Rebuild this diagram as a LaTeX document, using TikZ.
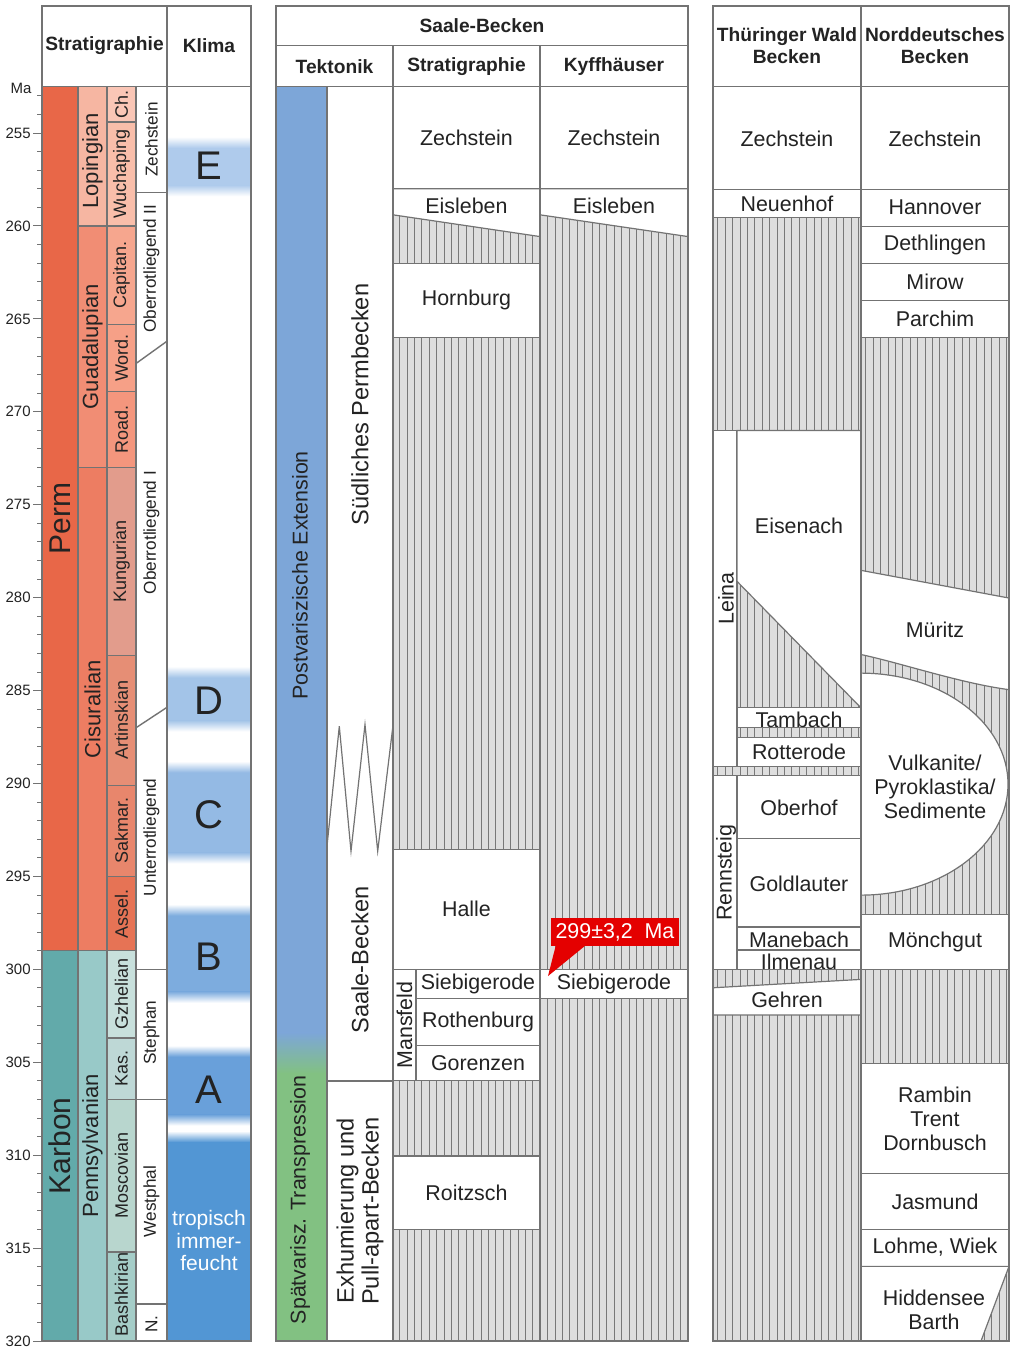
\documentclass[tikz,border=0pt]{standalone}
\usepackage{fontspec}
\setmainfont{Liberation Sans}
\usetikzlibrary{patterns.meta}

\definecolor{linegray}{RGB}{115,115,115}
\definecolor{textdark}{RGB}{35,35,35}
\definecolor{hatchfill}{RGB}{222,222,222}
\definecolor{hatchline}{RGB}{120,120,120}
\definecolor{perm}{RGB}{232,103,72}
\definecolor{karbon}{RGB}{98,170,170}
\definecolor{lopingian}{RGB}{246,182,162}
\definecolor{guadalupian}{RGB}{241,141,116}
\definecolor{cisuralian}{RGB}{237,125,98}
\definecolor{pennsylvanian}{RGB}{152,201,200}
\definecolor{changh}{RGB}{250,198,182}
\definecolor{wuchia}{RGB}{249,190,170}
\definecolor{capitan}{RGB}{246,166,142}
\definecolor{wordian}{RGB}{246,160,135}
\definecolor{roadian}{RGB}{244,150,125}
\definecolor{kungur}{RGB}{226,156,140}
\definecolor{artinsk}{RGB}{230,142,117}
\definecolor{sakmar}{RGB}{232,134,108}
\definecolor{assel}{RGB}{230,115,85}
\definecolor{gzhel}{RGB}{200,224,220}
\definecolor{kasimov}{RGB}{190,216,214}
\definecolor{moscov}{RGB}{184,214,206}
\definecolor{bashkir}{RGB}{165,205,200}
\definecolor{klimaE}{RGB}{175,203,236}
\definecolor{klimaD}{RGB}{163,196,232}
\definecolor{klimaC}{RGB}{148,186,228}
\definecolor{klimaB}{RGB}{125,172,222}
\definecolor{klimaA}{RGB}{105,160,218}
\definecolor{klimaT}{RGB}{82,150,212}
\definecolor{tekblue}{RGB}{125,166,216}
\definecolor{tekgreen}{RGB}{130,193,130}
\definecolor{calloutred}{RGB}{228,0,0}

\newcommand\klimaband[3]{%
  \fill[#3] (167,#1+0.3) rectangle (251,#2-0.3);
  \shade[top color=white,bottom color=#3] (167,#1-0.3) rectangle (251,#1+0.3);
  \shade[top color=#3,bottom color=white] (167,#2-0.3) rectangle (251,#2+0.3);}

\tikzset{
  frame/.style={draw=linegray, line width=0.7pt},
  unit/.style={draw=linegray, line width=0.6pt, fill=white},
  hatched/.style={fill=hatchfill, postaction={pattern={Lines[angle=90,distance=3.7pt,line width=0.5pt]}, pattern color=hatchline}},
  lbl/.style={text=textdark, inner sep=1pt, align=center, font=\fontsize{10.7}{12}\selectfont},
  head/.style={lbl, font=\bfseries\fontsize{9.6}{11}\selectfont},
  tick/.style={lbl, font=\fontsize{7.5}{8}\selectfont},
  period/.style={lbl, rotate=90, font=\fontsize{15}{16}\selectfont},
  series/.style={lbl, rotate=90, font=\fontsize{11}{12}\selectfont},
  stage/.style={lbl, rotate=90, font=\fontsize{9}{10}\selectfont},
  local/.style={lbl, rotate=90, font=\fontsize{8.6}{10}\selectfont},
  klima/.style={lbl, font=\fontsize{20}{22}\selectfont},
  tekto/.style={lbl, rotate=90, font=\fontsize{11.8}{12.5}\selectfont}
}

\begin{document}
\begin{tikzpicture}[x=0.5pt, y=-9.2923pt]
\useasboundingbox (0,247.844) rectangle (1012,320.377);
\fill[white] (0,247.844) rectangle (1012,320.377);

% Stratigraphie und Klima
\fill[perm] (42,252.5) rectangle (78,299);
\fill[karbon] (42,299) rectangle (78,320);
\fill[lopingian] (78,252.5) rectangle (107,260);
\fill[guadalupian] (78,260) rectangle (107,273);
\fill[cisuralian] (78,273) rectangle (107,299);
\fill[pennsylvanian] (78,299) rectangle (107,320);
\fill[changh] (107,252.5) rectangle (136,254.4);
\fill[wuchia] (107,254.4) rectangle (136,260);
\fill[capitan] (107,260) rectangle (136,265.3);
\fill[wordian] (107,265.3) rectangle (136,268.9);
\fill[roadian] (107,268.9) rectangle (136,273);
\fill[kungur] (107,273) rectangle (136,283.1);
\fill[artinsk] (107,283.1) rectangle (136,290.1);
\fill[sakmar] (107,290.1) rectangle (136,295);
\fill[assel] (107,295) rectangle (136,299);
\fill[gzhel] (107,299) rectangle (136,303.7);
\fill[kasimov] (107,303.7) rectangle (136,307);
\fill[moscov] (107,307) rectangle (136,315.2);
\fill[bashkir] (107,315.2) rectangle (136,320);

\klimaband{255.5}{258.1}{klimaE}
\klimaband{284.0}{286.9}{klimaD}
\klimaband{289.1}{294.0}{klimaC}
\klimaband{296.8}{301.5}{klimaB}
\klimaband{304.4}{308.1}{klimaA}
\shade[top color=white,bottom color=klimaT] (167,308.7) rectangle (251,309.3);
\fill[klimaT] (167,309.3) rectangle (251,320);

\draw[frame] (42,248.17) rectangle (251,320);
\draw[frame] (42,252.5) -- (251,252.5);
\draw[frame] (167,248.17) -- (167,320);
\foreach \x in {78,107,136}
  \draw[frame] (\x,252.5) -- (\x,320);
\draw[frame] (42,299) -- (136,299);
\draw[frame] (78,260) -- (107,260);
\draw[frame] (78,273) -- (107,273);
\foreach \t in {254.4,260,265.3,268.9,273,283.1,290.1,295,303.7,307,315.2}
  \draw[frame] (107,\t) -- (136,\t);
\draw[frame] (136,258.2) -- (167,258.2);
\draw[frame] (136,267.4) -- (167,266.2);
\draw[frame] (136,287.0) -- (167,285.9);
\foreach \t in {300,307,318}
  \draw[frame] (136,\t) -- (167,\t);

\foreach \t in {253,...,320}
  \draw[linegray, line width=0.5pt] (37,\t) -- (42,\t);
\foreach \t in {255,260,...,320}{
  \draw[linegray, line width=0.5pt] (33,\t) -- (42,\t);
  \node[tick, anchor=east] (ma\t) at (33,\t) {\t};
}
\node[tick] (maunit) at (21,252.6) {Ma};

\node[head] (stratL) at (104.5,250.3) {Stratigraphie};
\node[head] (klimaH) at (209,250.3) {Klima};

\node[period] (permP) at (60,275.75) {Perm};
\node[period] (karbonP) at (60,309.5) {Karbon};
\node[series] (loping) at (92.5,256.5) {Lopingian};
\node[series] (guadal) at (92.5,266.5) {Guadalupian};
\node[series] (cisur) at (92.5,286) {Cisuralian};
\node[series] (pennsyl) at (92.5,309.5) {Pennsylvanian};
\node[stage] (chS) at (121.5,253.45) {Ch.};
\node[stage] (wuS) at (121.5,257.2) {Wuchaping};
\node[stage] (caS) at (121.5,262.65) {Capitan.};
\node[stage] (woS) at (121.5,267.1) {Word.};
\node[stage] (roS) at (121.5,270.95) {Road.};
\node[stage] (kuS) at (121.5,278.05) {Kungurian};
\node[stage] (arS) at (121.5,286.6) {Artinskian};
\node[stage] (saS) at (121.5,292.55) {Sakmar.};
\node[stage] (asS) at (121.5,297) {Assel.};
\node[stage] (gzS) at (121.5,301.35) {Gzhelian};
\node[stage] (kaS) at (121.5,305.35) {Kas.};
\node[stage] (moS) at (121.5,311.1) {Moscovian};
\node[stage] (baS) at (121.5,317.5) {Bashkirian};
\node[local] (zechL) at (151.5,255.35) {Zechstein};
\node[local] (oberII) at (151.5,262.3) {Oberrotliegend II};
\node[local] (oberI) at (151.5,276.5) {Oberrotliegend I};
\node[local] (unter) at (151.5,292.9) {Unterrotliegend};
\node[local] (stephan) at (151.5,303.4) {Stephan};
\node[local] (westphal) at (151.5,312.5) {Westphal};
\node[local] (namur) at (151.5,319.1) {N.};

\node[klima] (kE) at (209,256.75) {E};
\node[klima] (kD) at (209,285.55) {D};
\node[klima] (kC) at (209,291.7) {C};
\node[klima] (kB) at (209,299.3) {B};
\node[klima] (kA) at (209,306.5) {A};
\node[lbl, text=white, font=\fontsize{10.5}{11.2}\selectfont] (tropic) at (209,314.6) {tropisch\\immer-\\feucht};

% Saale-Becken
\fill[tekblue] (276,252.5) rectangle (327,303.4);
\shade[top color=tekblue,bottom color=tekgreen] (276,303.4) rectangle (327,305.6);
\fill[tekgreen] (276,305.6) rectangle (327,320);
\fill[hatched] (393,252.5) rectangle (688,320);

\filldraw[unit] (393,252.5) rectangle (540,258.0);
\filldraw[unit] (393,258.0) -- (540,258.0) -- (540,260.57) -- (393,259.4) -- cycle;
\filldraw[unit] (393,262.0) rectangle (540,266.0);
\filldraw[unit] (393,293.55) rectangle (540,300);
\filldraw[unit] (393,300) rectangle (416,306);
\filldraw[unit] (416,300) rectangle (540,301.58);
\filldraw[unit] (416,301.58) rectangle (540,304.1);
\filldraw[unit] (416,304.1) rectangle (540,306);
\filldraw[unit] (393,310.04) rectangle (540,314);
\filldraw[unit] (540,252.5) rectangle (688,258.0);
\filldraw[unit] (540,258.0) -- (688,258.0) -- (688,260.57) -- (540,259.4) -- cycle;
\filldraw[unit] (540,300) rectangle (688,301.58);

\draw[frame] (276,248.17) rectangle (688,320);
\draw[frame] (276,250.3) -- (688,250.3);
\draw[frame] (276,252.5) -- (688,252.5);
\draw[frame] (393,250.3) -- (393,320);
\draw[frame] (540,250.3) -- (540,320);
\draw[frame] (327,252.5) -- (327,320);
\draw[frame] (327,306) -- (393,306);
\draw[linegray, line width=0.6pt] (327,293.37) -- (339.3,286.92) -- (351,293.64) -- (365,286.83) -- (377.7,293.64) -- (392.7,287.0);

\node[head] (saaleH) at (482,249.24) {Saale-Becken};
\node[head] (tektoH) at (334.5,251.4) {Tektonik};
\node[head] (stratM) at (466.5,251.4) {Stratigraphie};
\node[head] (kyffH) at (614,251.4) {Kyffh\"auser};

\node[lbl, rotate=90] (postvar) at (300,278.8) {Postvariszische Extension};
\node[lbl, rotate=90] (spaetvar) at (300,312.4) {Sp\"atvarisz. Transpression};
\node[tekto] (suedPB) at (360,269.6) {S\"udliches Permbecken};
\node[tekto] (saaleT) at (360,299.5) {Saale-Becken};
\node[tekto] (exhum) at (360,313) {Exhumierung und\\Pull-apart-Becken};

\node[lbl] (zechS) at (466.5,255.25) {Zechstein};
\node[lbl] (eisS) at (466.5,258.93) {Eisleben};
\node[lbl] (hornS) at (466.5,264.0) {Hornburg};
\node[lbl] (halleS) at (466.5,296.75) {Halle};
\node[lbl, rotate=90] (mansS) at (404.5,303) {Mansfeld};
\node[lbl] (siebS) at (478,300.8) {Siebigerode};
\node[lbl] (rothS) at (478,302.85) {Rothenburg};
\node[lbl] (gorS) at (478,305.05) {Gorenzen};
\node[lbl] (roitS) at (466.5,312.0) {Roitzsch};
\node[lbl] (zechK) at (614,255.25) {Zechstein};
\node[lbl] (eisK) at (614,258.93) {Eisleben};
\node[lbl] (siebK) at (614,300.8) {Siebigerode};

\node[lbl, fill=calloutred, text=white, minimum width=64pt, minimum height=14pt, inner sep=0pt] (age) at (615,298.01) {299\textpm3,2\ \ Ma};
\coordinate (agetip) at (548,300.36);
\fill[calloutred] ([xshift=2.5pt,yshift=0.3pt]age.south west) -- ([xshift=17pt,yshift=0.3pt]age.south west) -- (agetip) -- cycle;

% Thueringer Wald und Norddeutsches Becken
\fill[hatched] (713,252.5) rectangle (1009,320);

\filldraw[unit] (713,252.5) rectangle (861,258.05);
\filldraw[unit] (713,258.05) rectangle (861,259.53);
\filldraw[unit] (713,271) rectangle (737,289.07);
\filldraw[unit] (737,271) -- (861,271) -- (861,285.93) -- (737,279.12) -- cycle;
\filldraw[unit] (737,285.93) rectangle (861,287.0);
\filldraw[unit] (737,287.54) rectangle (861,289.07);
\filldraw[unit] (713,289.57) rectangle (737,300);
\filldraw[unit] (737,289.57) rectangle (861,292.97);
\filldraw[unit] (737,292.97) rectangle (861,297.72);
\filldraw[unit] (737,297.72) rectangle (861,298.96);
\filldraw[unit] (737,298.96) rectangle (861,300);
\filldraw[unit] (713,300.99) -- (861,300.54) -- (861,302.45) -- (713,302.45) -- cycle;

\filldraw[unit] (861,252.5) rectangle (1009,258.05);
\filldraw[unit] (861,258.05) rectangle (1009,260.04);
\filldraw[unit] (861,260.04) rectangle (1009,262.0);
\filldraw[unit] (861,262.0) rectangle (1009,264.0);
\filldraw[unit] (861,264.0) rectangle (1009,266.0);
\filldraw[unit] (861,278.53) -- (1009,280.02) -- (1009,284.95) .. controls (960,284.6) and (900,283.5) .. (861,283.06) -- cycle;
\filldraw[unit] (861,284.06) arc[start angle=90, end angle=-90, x radius=73.5pt, y radius=55.5pt] -- cycle;
\filldraw[unit] (861,297.04) rectangle (1009,300);
\filldraw[unit] (861,305.05) rectangle (1009,310.97);
\filldraw[unit] (861,310.97) rectangle (1009,313.98);
\filldraw[unit] (861,313.98) rectangle (1009,315.98);
\filldraw[unit] (861,315.98) -- (1009,315.98) -- (981,320) -- (861,320) -- cycle;

\draw[frame] (713,248.17) rectangle (1009,320);
\draw[frame] (713,252.5) -- (1009,252.5);
\draw[frame] (861,248.17) -- (861,320);

\node[head] (thuerH) at (787,250.32) {Th\"uringer Wald\\Becken};
\node[head] (nordH) at (935,250.32) {Norddeutsches\\Becken};

\node[lbl] (zechT) at (787,255.3) {Zechstein};
\node[lbl] (neuenT) at (787,258.82) {Neuenhof};
\node[lbl, rotate=90] (leinaT) at (726,280.05) {Leina};
\node[lbl] (eisenT) at (799,276.15) {Eisenach};
\node[lbl] (tambT) at (799,286.55) {Tambach};
\node[lbl] (rottT) at (799,288.29) {Rotterode};
\node[lbl, rotate=90] (rennT) at (726,294.8) {Rennsteig};
\node[lbl] (oberT) at (799,291.32) {Oberhof};
\node[lbl] (goldT) at (799,295.4) {Goldlauter};
\node[lbl] (maneT) at (799,298.42) {Manebach};
\node[lbl] (ilmT) at (799,299.59) {Ilmenau};
\node[lbl] (gehrT) at (787,301.65) {Gehren};

\node[lbl] (zechN) at (935,255.3) {Zechstein};
\node[lbl] (hannN) at (935,259.0) {Hannover};
\node[lbl] (dethN) at (935,261.03) {Dethlingen};
\node[lbl] (mirN) at (935,263.03) {Mirow};
\node[lbl] (parN) at (935,265.02) {Parchim};
\node[lbl] (muerN) at (935,281.74) {M\"uritz};
\node[lbl, font=\fontsize{10.7}{12}\selectfont] (vulkN) at (935,290.17) {Vulkanite/\\Pyroklastika/\\Sedimente};
\node[lbl] (moenN) at (935,298.5) {M\"onchgut};
\node[lbl] (rambN) at (935,308.05) {Rambin\\Trent\\Dornbusch};
\node[lbl] (jasN) at (935,312.5) {Jasmund};
\node[lbl] (lohN) at (935,314.92) {Lohme, Wiek};
\node[lbl] (hidN) at (934,318.3) {Hiddensee\\Barth};
\end{tikzpicture}
\end{document}
